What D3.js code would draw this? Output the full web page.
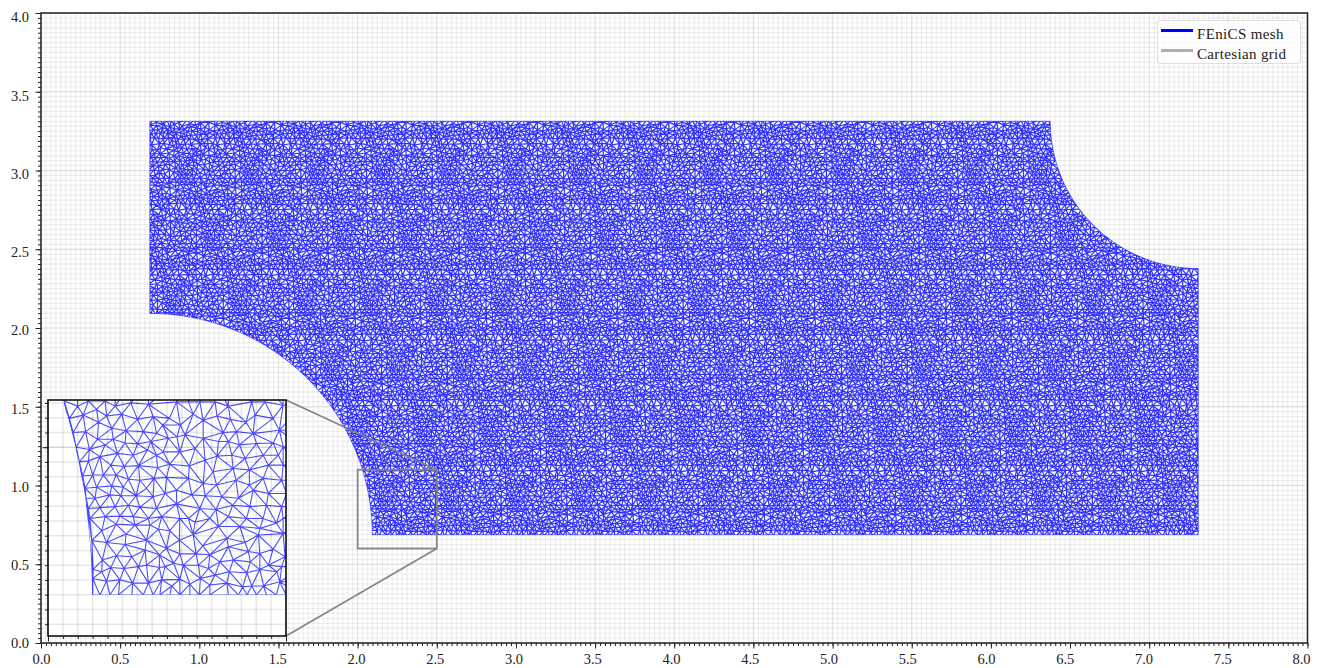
<!DOCTYPE html>
<html><head><meta charset="utf-8">
<script src="https://cdn.jsdelivr.net/npm/d3@7"></script>
<style>html,body{margin:0;padding:0;background:#fff}svg{display:block}
text{font-family:"Liberation Serif",serif;fill:#222}</style></head><body>
<div id="chart"></div>
<script>
// Axis content
const xTickValues = [0,0.5,1,1.5,2,2.5,3,3.5,4,4.5,5,5.5,6,6.5,7,7.5,8];
const yTickValues = [0,0.5,1,1.5,2,2.5,3,3.5,4];
const gridStep = 0.03125;
const legendLabels = ["FEniCS mesh","Cartesian grid"];
// Domain outline
const domainX = [0.6875,7.31];
const domainY = [0.6875,3.3125];
const arcLowerLeft = {cx:0.6875,cy:0.6875,r:1.405};
const arcUpperRight = {cx:7.31,cy:3.3125,r:0.935};
const insetWindowX = [2.0,2.5];
const insetWindowY = [0.6,1.1];
// Mesh nodes. The main panel is far too dense to read
// node by node, so its texture repeats the block.
const meshNodes = [
[2.034,1.098],[2.062,1.087],[2.085,1.098],[2.102,1.080],[2.120,1.098],[2.141,1.087],[2.174,1.094],[2.211,1.091],
[2.045,1.061],[2.074,1.068],[2.106,1.053],[2.123,1.066],[2.155,1.070],[2.188,1.059],[2.221,1.065],
[2.053,1.031],[2.079,1.033],[2.134,1.040],[2.164,1.035],[2.200,1.033],[2.228,1.029],
[2.059,1.000],[2.104,1.017],[2.137,1.017],[2.162,1.009],[2.188,1.007],[2.216,1.012],
[2.087,0.995],[2.120,1.005],[2.146,0.987],[2.179,0.983],[2.209,0.994],[2.228,0.983],
[2.066,0.969],[2.085,0.971],[2.109,0.980],[2.132,0.962],[2.160,0.959],[2.190,0.961],[2.230,0.957],
[2.073,0.939],[2.094,0.941],[2.116,0.941],[2.143,0.941],[2.169,0.932],[2.193,0.930],[2.223,0.934],
[2.078,0.913],[2.102,0.915],[2.134,0.918],[2.158,0.915],[2.207,0.913],
[2.080,0.892],[2.099,0.892],[2.130,0.899],[2.153,0.897],[2.185,0.897],[2.221,0.895],
[2.085,0.870],[2.109,0.872],[2.141,0.874],[2.169,0.877],[2.193,0.873],[2.228,0.870],
[2.088,0.849],[2.120,0.853],[2.151,0.854],[2.179,0.853],[2.211,0.849],
[2.113,0.823],[2.143,0.837],[2.164,0.816],[2.183,0.835],[2.214,0.835],[2.232,0.826],
[2.092,0.802],[2.123,0.798],[2.162,0.794],[2.207,0.803],
[2.114,0.761],[2.144,0.770],[2.176,0.768],[2.204,0.782],[2.234,0.772],
[2.095,0.741],[2.113,0.736],[2.132,0.745],[2.160,0.743],[2.190,0.747],[2.207,0.750],[2.234,0.745],
[2.123,0.716],[2.151,0.719],[2.178,0.712],[2.211,0.712],[2.094,0.722],
[2.094,0.687],[2.109,0.687],[2.130,0.687],[2.148,0.687],[2.176,0.687],[2.200,0.687],[2.221,0.687],
[2.270,1.096],[2.295,1.096],[2.319,1.096],[2.351,1.096],[2.379,1.087],[2.428,1.096],[2.456,1.096],[2.494,1.089],
[2.255,1.061],[2.278,1.047],[2.305,1.070],[2.326,1.057],[2.355,1.066],[2.383,1.059],[2.416,1.053],[2.435,1.068],[2.473,1.061],
[2.241,1.047],[2.271,1.022],[2.288,1.026],[2.368,1.031],[2.396,1.033],[2.431,1.029],[2.486,1.036],
[2.253,1.019],[2.326,1.019],[2.358,1.012],[2.379,1.012],[2.402,1.005],[2.438,1.008],[2.473,1.009],[2.494,1.001],
[2.242,0.990],[2.277,0.990],[2.309,0.997],[2.330,0.973],[2.355,0.981],[2.386,0.983],[2.414,0.976],[2.452,0.983],[2.484,0.983],
[2.256,0.964],[2.297,0.960],[2.347,0.948],[2.389,0.955],[2.423,0.952],[2.463,0.962],[2.494,0.962],
[2.249,0.936],[2.295,0.934],[2.326,0.923],[2.354,0.920],[2.395,0.930],[2.452,0.934],[2.491,0.930],[2.423,0.920],
[2.270,0.909],[2.246,0.902],[2.302,0.899],[2.330,0.897],[2.365,0.895],[2.400,0.892],[2.431,0.909],[2.463,0.902],[2.501,0.902],
[2.270,0.880],[2.319,0.870],[2.353,0.868],[2.388,0.877],[2.424,0.874],[2.459,0.877],[2.491,0.874],
[2.239,0.853],[2.295,0.849],[2.340,0.849],[2.379,0.853],[2.417,0.849],[2.452,0.849],[2.494,0.849],
[2.256,0.823],[2.277,0.849],[2.309,0.841],[2.358,0.832],[2.403,0.832],[2.445,0.828],[2.480,0.839],
[2.276,0.803],[2.305,0.815],[2.325,0.791],[2.376,0.807],[2.414,0.798],[2.442,0.814],[2.494,0.817],
[2.249,0.786],[2.277,0.774],[2.311,0.774],[2.340,0.772],[2.379,0.789],[2.421,0.779],[2.445,0.775],[2.473,0.784],[2.498,0.768],
[2.246,0.747],[2.264,0.754],[2.284,0.750],[2.316,0.750],[2.337,0.743],[2.361,0.757],[2.389,0.761],[2.425,0.757],[2.463,0.750],[2.491,0.747],
[2.239,0.719],[2.277,0.720],[2.298,0.710],[2.320,0.722],[2.351,0.729],[2.381,0.736],[2.418,0.734],[2.445,0.741],[2.481,0.736],
[2.260,0.706],[2.340,0.708],[2.376,0.712],[2.409,0.704],[2.428,0.706],[2.453,0.706],[2.487,0.715],
[2.235,0.687],[2.256,0.687],[2.277,0.687],[2.298,0.687],[2.318,0.687],[2.340,0.687],[2.379,0.687],[2.400,0.687],[2.418,0.687],[2.438,0.687],[2.459,0.687],[2.480,0.687],[2.500,0.687]
];

const W=1320,H=668;
const x=d3.scaleLinear().domain([0,8]).range([41,1307.5]);
const y=d3.scaleLinear().domain([0,4]).range([643,13]);
const ix=d3.scaleLinear().domain(insetWindowX).range([48,286]);
const iy=d3.scaleLinear().domain(insetWindowY).range([636,400]);
const xLabelPos=d3.scaleLinear().domain([0,8]).range([41,1301]);
const yLabelPos=d3.scaleLinear().domain([0,4]).range([643,17]);

const svg=d3.select("#chart").append("svg").attr("width",W).attr("height",H);
const defs=svg.append("defs");

function domainPath(sx,sy){
  const angles=d3.range(0,91,1.5).map(d=>d*Math.PI/180);
  const lower=angles.map(t=>[arcLowerLeft.cx+arcLowerLeft.r*Math.sin(t),arcLowerLeft.cy+arcLowerLeft.r*Math.cos(t)]);
  const upper=angles.map(t=>[arcUpperRight.cx-arcUpperRight.r*Math.cos(t),arcUpperRight.cy-arcUpperRight.r*Math.sin(t)]);
  const outline=[[domainX[0],domainY[1]],...lower,[domainX[1],domainY[0]],...upper.reverse()];
  return d3.line().x(d=>sx(d[0])).y(d=>sy(d[1]))(outline)+"Z";
}
const mainDomain=domainPath(x,y), insetDomain=domainPath(ix,iy);
defs.append("clipPath").attr("id","clipMain").append("path").attr("d",mainDomain);
defs.append("clipPath").attr("id","clipInsetDomain").append("path").attr("d",insetDomain);
defs.append("clipPath").attr("id","clipInset").append("rect").attr("x",48).attr("y",400).attr("width",238).attr("height",236);

function grid(g,sx,sy,xd,yd,xr,yr,w,op,opMajor){
  const isMajor=v=>Math.abs(v*2-Math.round(v*2))<1e-6;
  g.selectAll("line.v").data(xd).join("line").attr("class","v")
   .attr("x1",sx).attr("x2",sx).attr("y1",yr[0]).attr("y2",yr[1])
   .attr("stroke","#000").attr("stroke-width",w).attr("stroke-opacity",d=>isMajor(d)?opMajor:op);
  g.selectAll("line.h").data(yd).join("line").attr("class","h")
   .attr("y1",sy).attr("y2",sy).attr("x1",xr[0]).attr("x2",xr[1])
   .attr("stroke","#000").attr("stroke-width",w).attr("stroke-opacity",d=>isMajor(d)?opMajor:op);
}
const gridX=d3.range(0,8+1e-9,gridStep), gridY=d3.range(0,4+1e-9,gridStep);
grid(svg.append("g"),x,y,gridX,gridY,[41,1307.5],[13,643],1.3,.06,.1);

// Main mesh
const box=meshNodes.filter(d=>d[0]>=2.10&&d[0]<2.50&&d[1]>=0.70&&d[1]<1.10);
const tilePeriod=0.415;
const tiled=[];
for(let i=-6;i<=16;i++)for(let j=-1;j<=6;j++){
  box.forEach(d=>{
    tiled.push([x(d[0]+tilePeriod*i-0.17*j),y(d[1]+tilePeriod*j)]);
  });
}
const meshStyle=(s,w,op)=>s.attr("fill","none").attr("stroke","#0000ff").attr("stroke-width",w).attr("stroke-opacity",op);
svg.append("path").attr("clip-path","url(#clipMain)").attr("d",d3.Delaunay.from(tiled).render()).call(meshStyle,1.2,.8);
svg.append("path").attr("d",mainDomain).call(meshStyle,.7,.7);

// Main axes
const fmt=d3.format(".1f");
function mainAxis(gen,ticks,size,label){
  return g=>{
    g.call(gen.tickValues(ticks).tickSize(size).tickFormat(label?fmt:"").tickSizeOuter(0));
    g.select(".domain").remove();
    g.selectAll("line").attr("stroke","#222").attr("stroke-width",1);
  };
}
const ax=svg.append("g").attr("transform","translate(0,643)");
ax.append("g").call(mainAxis(d3.axisBottom(x),gridX,3,false));
const axM=ax.append("g").call(mainAxis(d3.axisBottom(x),xTickValues,5.5,true));
axM.attr("font-family",null).attr("font-size",null);
axM.selectAll("text").attr("y",11).attr("dy","0.71em").style("font-size","14.5px")
   .attr("x",d=>xLabelPos(d)-x(d));
const ay=svg.append("g").attr("transform","translate(41,0)");
ay.append("g").call(mainAxis(d3.axisLeft(y),gridY,3,false));
const ayM=ay.append("g").call(mainAxis(d3.axisLeft(y),yTickValues,5.5,true));
ayM.attr("font-family",null).attr("font-size",null);
ayM.selectAll("text").attr("x",-12).style("font-size","14.5px")
   .attr("dy","0.33em").attr("y",d=>yLabelPos(d)-y(d));
svg.append("rect").attr("x",41).attr("y",13).attr("width",1266.5).attr("height",630)
   .attr("fill","none").attr("stroke","#222").attr("stroke-width",1.5);

// Legend
const lg=svg.append("g");
lg.append("rect").attr("x",1157.5).attr("y",20.5).attr("width",143).attr("height",43).attr("rx",2.5)
  .attr("fill","#fff").attr("fill-opacity",.8).attr("stroke","#ccc").attr("stroke-opacity",.8).attr("stroke-width",.8);
const legendColor=d3.scaleOrdinal().domain(legendLabels).range(["#0000ff","#b0b0b0"]);
const legendY=d3.scalePoint().domain(legendLabels).range([30.5,50.5]);
lg.selectAll("line").data(legendLabels).join("line")
  .attr("x1",1161).attr("x2",1193).attr("y1",legendY).attr("y2",legendY)
  .attr("stroke",legendColor).attr("stroke-width",3);
lg.selectAll("text").data(legendLabels).join("text").attr("x",1197).attr("y",d=>legendY(d)+8)
  .style("font-size","15px").style("letter-spacing","0.35px").text(d=>d);

// Zoom window and connectors
const conn=svg.append("g").attr("fill","none").attr("stroke","#808080").attr("stroke-opacity",.95).attr("stroke-width",1.8);
conn.append("rect").attr("x",x(insetWindowX[0])).attr("y",y(insetWindowY[1]))
    .attr("width",x(insetWindowX[1])-x(insetWindowX[0])).attr("height",y(insetWindowY[0])-y(insetWindowY[1]));
conn.append("line").attr("x1",x(insetWindowX[1])).attr("y1",y(insetWindowY[1])).attr("x2",286).attr("y2",400);
conn.append("line").attr("x1",x(insetWindowX[1])).attr("y1",y(insetWindowY[0])).attr("x2",286).attr("y2",636);

// Inset
const ins=svg.append("g");
ins.append("rect").attr("x",48).attr("y",400).attr("width",238).attr("height",236).attr("fill","#fff");
const insGridX=gridX.filter(v=>v>=insetWindowX[0]&&v<=insetWindowX[1]);
const insGridY=gridY.filter(v=>v>=insetWindowY[0]&&v<=insetWindowY[1]);
grid(ins.append("g"),ix,iy,insGridX,insGridY,[48,286],[636,400],1.6,.09,.16);
// nodes beyond the top and right edges continue the mesh out to the frame
const insNodes=[...meshNodes,
  ...meshNodes.filter(d=>d[1]>1.0).map(d=>[d[0],2.23-d[1]]),
  ...meshNodes.filter(d=>d[0]>2.4).map(d=>[5.03-d[0],d[1]])
].map(d=>[ix(d[0]),iy(d[1])]);
ins.append("g").attr("clip-path","url(#clipInset)").append("path").attr("clip-path","url(#clipInsetDomain)")
   .attr("d",d3.Delaunay.from(insNodes).render()).call(meshStyle,1.1,.7);
function insetAxis(gen,sel){
  sel.call(gen.tickFormat("").tickSizeOuter(0));
  sel.select(".domain").remove();
  sel.selectAll("line").attr("stroke","#222").attr("stroke-width",1);
}
const isHalf=v=>Math.abs(v*2-Math.round(v*2))<1e-6;
insetAxis(d3.axisBottom(ix).tickValues(insGridX).tickSize(3),ins.append("g").attr("transform","translate(0,636)"));
insetAxis(d3.axisLeft(iy).tickValues(insGridY).tickSize(3),ins.append("g").attr("transform","translate(48,0)"));
insetAxis(d3.axisBottom(ix).tickValues(insGridX.filter(isHalf)).tickSize(5.5),ins.append("g").attr("transform","translate(0,636)"));
insetAxis(d3.axisLeft(iy).tickValues(insGridY.filter(isHalf)).tickSize(5.5),ins.append("g").attr("transform","translate(48,0)"));
ins.append("rect").attr("x",48).attr("y",400).attr("width",238).attr("height",236)
   .attr("fill","none").attr("stroke","#111").attr("stroke-width",1.6);
</script></body></html>
